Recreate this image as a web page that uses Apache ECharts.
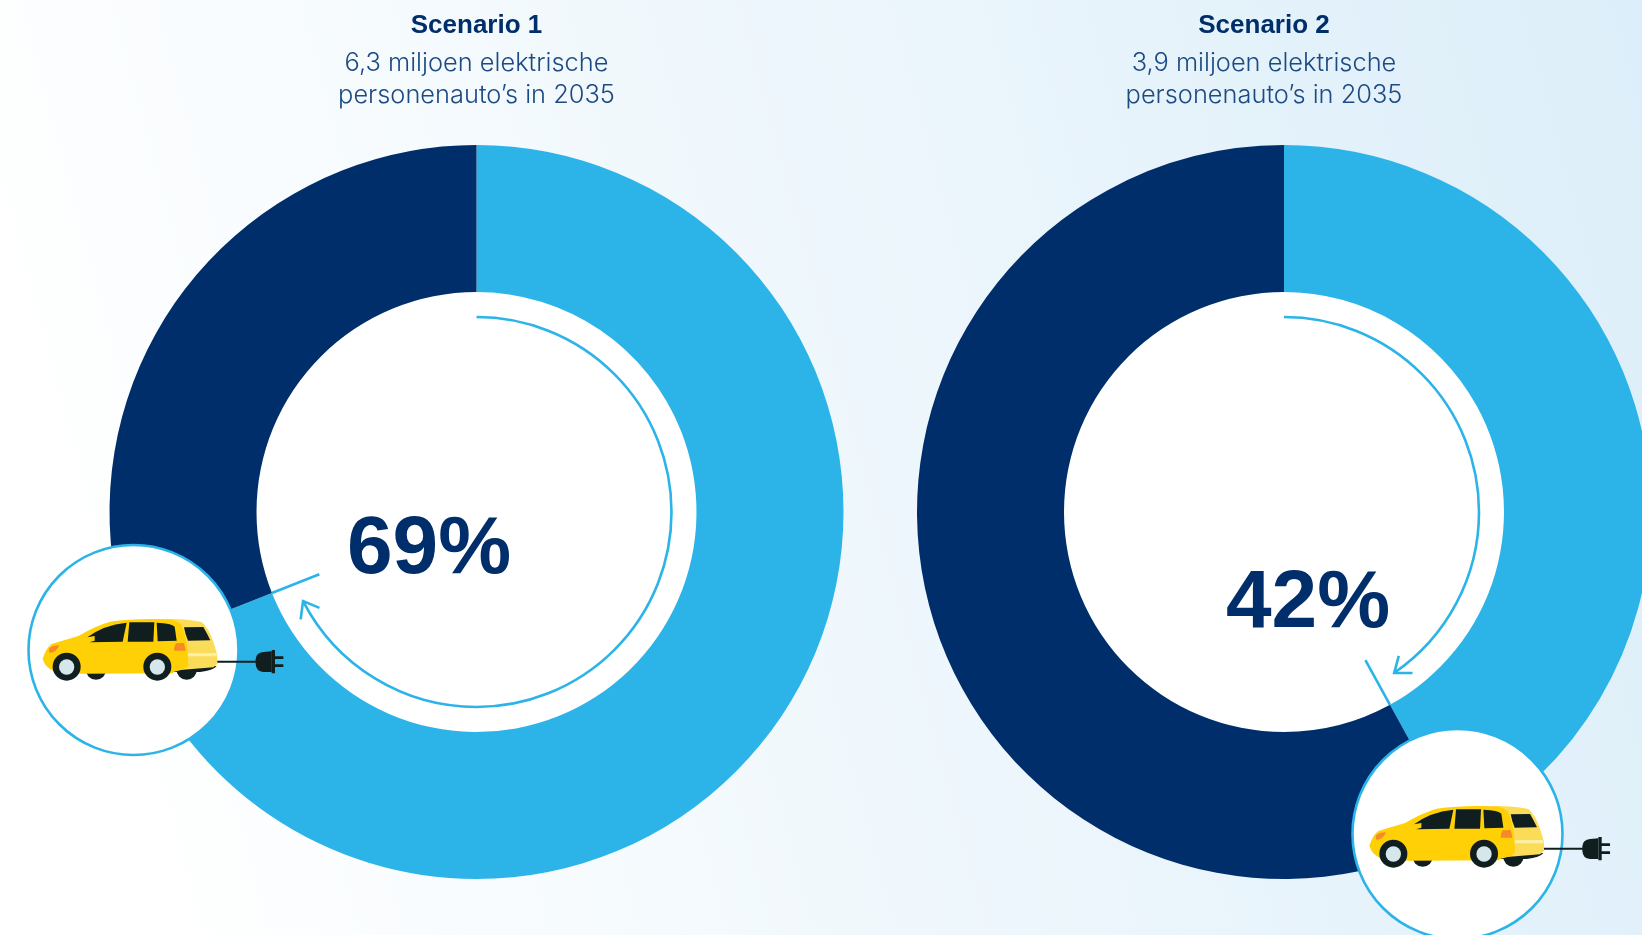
<!DOCTYPE html>
<html>
<head>
<meta charset="utf-8">
<title>Elektrische personenauto's in 2035</title>
<style>html,body{margin:0;padding:0;width:100%;height:100%;overflow:hidden;background:#fff}#chart{width:1642px;height:935px}</style>
<script src="https://cdn.jsdelivr.net/npm/echarts@6/dist/echarts.min.js"></script>
</head>
<body>
<div id="chart"></div>
<script>
// Scenario data
const scenarioNames = ['Scenario 1', 'Scenario 2'];
const scenarioNotes = ['6,3 miljoen elektrische\npersonenauto\u2019s in 2035', '3,9 miljoen elektrische\npersonenauto\u2019s in 2035'];
const electricShare = [69, 42];
const otherShare = [31, 58];

// Layout and palette
const NAVY = '#002E6B', SKY = '#2CB4E9', INK = '#101E1F';
const centers = [[476.5, 512], [1284, 512]];
const titleX = [471.5, 1259];
const outerR = 367, innerR = 220, arrowR = 195, tickInnerR = 169;
const percentPos = [[429, 550], [1308, 604]];
const badges = [{ c: [133.5, 650], car: [0, 520] }, { c: [1457.5, 834], car: [1326.7, 707] }];
const BADGE_R = 105;

// Polar point, angle in degrees clockwise from twelve o'clock
function polar(c, r, deg) {
  const a = deg * Math.PI / 180;
  return [c[0] + r * Math.sin(a), c[1] - r * Math.cos(a)];
}

// Progress arc with arrowhead, running clockwise from the top to just short of the share boundary
function arrowArc(i) {
  const c = centers[i];
  const end = electricShare[i] * 3.6 - 5.6;
  const tip = polar(c, arrowR, end);
  const head = [polar(c, arrowR - 11, end - 4.2), tip, polar(c, arrowR + 11, end - 4.2)];
  const style = { stroke: SKY, lineWidth: 2.6, fill: 'none' };
  return [
    { type: 'arc', z: 5, silent: true, shape: { cx: c[0], cy: c[1], r: arrowR, startAngle: -Math.PI / 2, endAngle: (end - 90) * Math.PI / 180, clockwise: true }, style },
    { type: 'polyline', z: 5, silent: true, shape: { points: head }, style }
  ];
}

// Radial tick continuing the share boundary into the hole
function boundaryTick(i) {
  const deg = electricShare[i] * 3.6;
  const a = polar(centers[i], innerR, deg), b = polar(centers[i], tickInnerR, deg);
  return { type: 'line', z: 5, silent: true, shape: { x1: a[0], y1: a[1], x2: b[0], y2: b[1] }, style: { stroke: SKY, lineWidth: 2.6 } };
}

// White badge holding a car with charging plug; the car is drawn in a 3x local frame
function renderBadge(params) {
  const b = badges[params.dataIndex];
  const path = (d, fill) => ({ type: 'path', shape: { pathData: d }, style: { fill } });
  const disc = (x, y, r, fill) => ({ type: 'circle', shape: { cx: x, cy: y, r }, style: { fill } });
  return {
    type: 'group',
    children: [
      { type: 'circle', shape: { cx: b.c[0], cy: b.c[1], r: BADGE_R }, style: { fill: '#fff', stroke: SKY, lineWidth: 2.6 } },
      {
        type: 'group', x: b.car[0], y: b.car[1], scaleX: 1 / 3, scaleY: 1 / 3,
        children: [
          { type: 'line', shape: { x1: 645, y1: 425, x2: 775, y2: 425 }, style: { stroke: INK, lineWidth: 6 } },
          path('M790 396 L815 394 L815 456 L790 456 Q768 454 767 432 L767 418 Q768 398 790 396 Z', INK),
          path('M815 390 L825 390 L825 409 L850 409 L850 417 L825 417 L825 433 L850 433 L850 441 L825 441 L825 460 L815 460 Z', INK),
          disc(288, 448, 31, INK),
          disc(560, 448, 31, INK),
          path('M505 456 L600 456 Q640 452 650 438 L500 440 Z', INK),
          path('M500 297 Q560 296 605 306 Q625 322 640 365 L652 405 L652 432 L640 442 L540 450 L500 450 Z', '#FBDC58'),
          path('M563 400 L649 399 L651 409 L563 409 Z', '#FFF0A8'),
          path('M552 322 L610 321 Q620 338 631 361 L564 362 Q556 345 552 322 Z', INK),
          path('M128 416 Q138 385 155 372 L235 348 Q285 318 330 305 Q400 295 500 298 Q530 300 542 312 Q560 345 563 400 L565 435 Q560 448 520 456 L518 460 L245 461 L160 452 Q135 442 128 416 Z', '#FFD006'),
          path('M262 352 Q310 315 380 308 L368 365 L268 367 L284 362 L284 348 Z', INK),
          path('M388 307 L463 307 L460 365 L383 365 Z', INK),
          path('M470 308 Q515 310 524 320 L530 362 L473 364 Z', INK),
          path('M148 385 Q160 374 177 376 Q172 396 150 399 Q145 393 148 385 Z', '#F58A26'),
          path('M528 370 L552 369 L557 392 L522 392 Q521 378 528 370 Z', '#F58A26'),
          disc(200, 440, 42, INK),
          disc(200, 441, 23, '#D6E7EB'),
          disc(472, 440, 42, INK),
          disc(472, 441, 23, '#D6E7EB')
        ]
      }
    ]
  };
}

const graphicElements = [];
centers.forEach((c, i) => {
  graphicElements.push({ type: 'circle', z: 1, silent: true, shape: { cx: c[0], cy: c[1], r: innerR }, style: { fill: '#fff' } });
  graphicElements.push(...arrowArc(i), boundaryTick(i));
  graphicElements.push({
    type: 'text', z: 6, silent: true, x: percentPos[i][0], y: percentPos[i][1],
    style: { text: electricShare[i] + '%', fill: NAVY, font: 'bold 82px "Liberation Sans", Arial, sans-serif', textAlign: 'center', textVerticalAlign: 'middle' }
  });
});

const chart = echarts.init(document.getElementById('chart'), null, { renderer: 'canvas' });
chart.setOption({
  animation: false,
  backgroundColor: {
    type: 'linear', global: true, x: 100, y: 760, x2: 1729, y2: 325,
    colorStops: [{ offset: 0, color: '#FFFFFF' }, { offset: 1, color: '#DCEEF9' }]
  },
  title: scenarioNames.flatMap((name, i) => [
    { text: name, left: titleX[i], top: 6, textAlign: 'center', textStyle: { color: NAVY, fontFamily: '"Liberation Sans", Arial, sans-serif', fontWeight: 'bold', fontSize: 26, lineHeight: 30 } },
    { text: scenarioNotes[i], left: titleX[i], top: 42, textAlign: 'center', textStyle: { color: '#1C4A82', fontFamily: 'Inter, sans-serif', fontWeight: 300, fontSize: 25.4, lineHeight: 32 } }
  ]),
  series: [
    ...centers.map((c, i) => ({
      type: 'pie', name: scenarioNames[i], center: c, radius: [innerR, outerR], startAngle: 90, clockwise: true,
      silent: true, label: { show: false }, labelLine: { show: false }, itemStyle: { borderWidth: 0 },
      data: [
        { name: 'Elektrisch', value: electricShare[i], itemStyle: { color: SKY } },
        { name: 'Overig', value: otherShare[i], itemStyle: { color: NAVY } }
      ]
    })),
    { type: 'custom', coordinateSystem: 'none', z: 10, silent: true, renderItem: renderBadge, data: badges.map((b, i) => [i]) }
  ],
  graphic: { elements: graphicElements }
});
</script>
</body>
</html>
